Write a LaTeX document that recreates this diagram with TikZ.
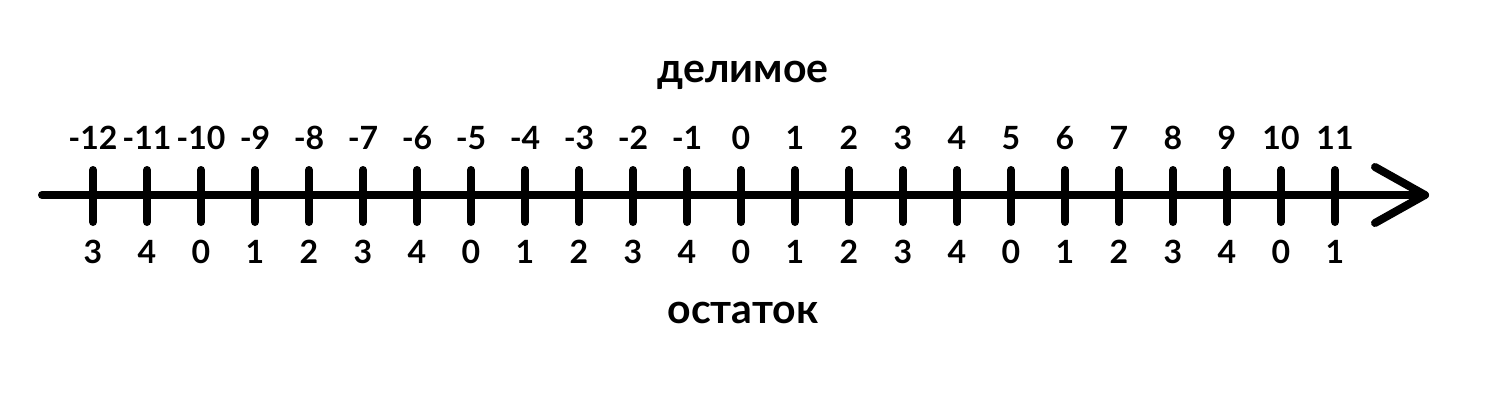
\documentclass[tikz,border=0pt]{standalone}
\usepackage{fontspec}
\setmainfont{Lato}
\usepackage{tikz}

\begin{document}
\begin{tikzpicture}[
            x = 1pt, y = -1pt, % pixel grid, y down
            line cap = round,
            line join = round,
        ]

        \tikzstyle{axis}=[
            draw = black,
            line width = 8pt
        ]
        \tikzstyle{tick}=[
            draw = black,
            line width = 8pt
        ]
        \tikzstyle{num}=[
            font = \fontsize{32}{36}\selectfont\bfseries,
            inner sep = 0pt
        ]
        \tikzstyle{word}=[
            font = \fontsize{41}{45}\selectfont\bfseries,
            inner sep = 0pt
        ]

        \useasboundingbox (0,0) rectangle (1500,400);

        \coordinate (start) at (42,195);
        \coordinate (tip) at (1425,195);

        \draw[axis] (start) -- (tip);
        \draw[axis] (1375,167) -- (tip) -- (1375,223);

        \foreach \n in {-12,...,11} {
            \pgfmathsetmacro\xpos{93 + 54*(\n+12)}
            \pgfmathtruncatemacro\rem{mod(mod(\n,5)+5,5)}
            \draw[tick] (\xpos,170) -- (\xpos,222);
            \node[num] (d\n) at (\xpos,138) {\n};
            \node[num] (r\n) at (\xpos,252) {\rem};
        }

        \node[word] (dividend) at (743,75) {делимое};
        \node[word] (remainder) at (743,313) {остаток};
    \end{tikzpicture}
\end{document}
